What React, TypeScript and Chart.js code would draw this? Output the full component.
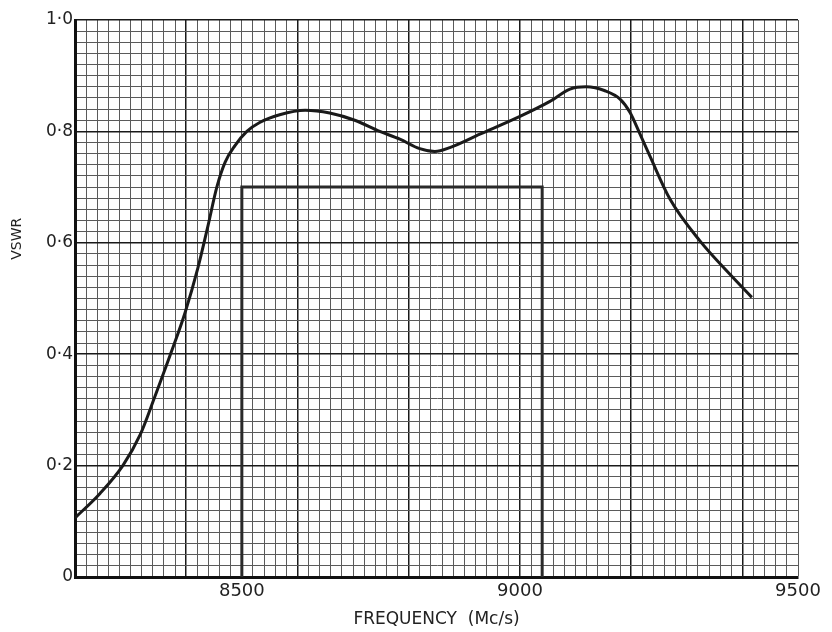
import React, { useEffect, useRef } from "react";
import { Chart, registerables } from "chart.js";

Chart.register(...registerables);

const frequencies = [8200, 8245, 8286, 8317, 8344, 8371, 8398, 8421, 8439, 8455, 8470, 8488, 8509, 8532, 8568, 8614, 8658, 8703, 8748, 8784, 8820, 8847, 8874, 8928, 9000, 9054, 9090, 9119, 9153, 9180, 9198, 9216, 9234, 9270, 9324, 9378, 9417];
const vswr = [0.106, 0.150, 0.20, 0.255, 0.325, 0.398, 0.475, 0.555, 0.63, 0.70, 0.745, 0.775, 0.80, 0.816, 0.83, 0.838, 0.833, 0.82, 0.80, 0.786, 0.769, 0.764, 0.771, 0.795, 0.827, 0.854, 0.876, 0.880, 0.873, 0.858, 0.834, 0.795, 0.755, 0.678, 0.603, 0.543, 0.502];

const bandFreqs = [8500, 8500, 9040, 9040];
const bandValues = [0, 0.7, 0.7, 0];

const xTickLabels = [8500, 9000, 9500];
const yTickLabels = ["0", "0·2", "0·4", "0·6", "0·8", "1·0"];

const X_MIN = 8200;
const X_MAX = 9500;
const FONT = "'DejaVu Sans', sans-serif";

export default function App() {
  const ref = useRef<HTMLCanvasElement | null>(null);
  useEffect(() => {
    if (!ref.current) return;
    const yTitlePlugin = {
      id: "yTitle",
      afterDraw(chart: any) {
        const ctx = chart.ctx;
        const y = chart.scales.y;
        ctx.save();
        ctx.font = `14px ${FONT}`;
        ctx.fillStyle = "#222";
        ctx.textAlign = "center";
        ctx.textBaseline = "middle";
        ctx.translate(17, y.getPixelForValue(0.6) - 4);
        ctx.rotate(-Math.PI / 2);
        ctx.fillText("VSWR", 0, 0);
        ctx.restore();
      },
    };
    const isMajorX = (v: number) => Math.round(v - X_MIN) % 200 === 0;
    const isMajorY = (v: number) => Math.round(v * 50) % 10 === 0;
    const chart = new Chart(ref.current, {
      type: "line",
      data: {
        datasets: [
          {
            data: frequencies.map((f, i) => ({ x: f, y: vswr[i] })),
            borderColor: "#1a1a1a",
            borderWidth: 3,
            pointRadius: 0,
            cubicInterpolationMode: "monotone",
            fill: false,
          },
          {
            data: bandFreqs.map((f, i) => ({ x: f, y: bandValues[i] })),
            borderColor: "#2a2a2a",
            borderWidth: 3,
            pointRadius: 0,
            tension: 0,
            fill: false,
          },
        ],
      },
      options: {
        animation: false,
        responsive: true,
        maintainAspectRatio: false,
        layout: { padding: { top: 20, right: 34, left: 0, bottom: 0 } },
        plugins: { legend: { display: false }, tooltip: { enabled: false } },
        scales: {
          x: {
            type: "linear",
            min: X_MIN,
            max: X_MAX,
            afterFit: (s: any) => { s.height = 55; },
            ticks: {
              stepSize: 20,
              maxTicksLimit: 1000,
              autoSkip: false,
              maxRotation: 0,
              minRotation: 0,
              padding: 4,
              color: "#222",
              font: { family: FONT, size: 18 },
              callback: (v: any) => (xTickLabels.includes(Math.round(v)) ? String(Math.round(v)) : ""),
            },
            grid: {
              drawTicks: false,
              color: (c: any) => (c.tick && isMajorX(c.tick.value) ? "#1a1a1a" : "#5a5a5a"),
              lineWidth: (c: any) => (c.tick && isMajorX(c.tick.value) ? 1.5 : 1),
            },
            border: { display: true, color: "#111", width: 3 },
            title: {
              display: true,
              text: "FREQUENCY  (Mc/s)",
              color: "#222",
              font: { family: FONT, size: 17 },
              padding: { top: 2, bottom: 2 },
            },
          },
          y: {
            type: "linear",
            min: 0,
            max: 1,
            afterFit: (s: any) => { s.width = 75; },
            ticks: {
              stepSize: 0.02,
              maxTicksLimit: 1000,
              autoSkip: false,
              padding: 2,
              color: "#222",
              font: { family: FONT, size: 17 },
              callback: (v: any) => {
                const n = Math.round(v * 50);
                return n % 10 === 0 ? yTickLabels[n / 10] : "";
              },
            },
            grid: {
              drawTicks: false,
              color: (c: any) => (c.tick && isMajorY(c.tick.value) ? "#1a1a1a" : "#5a5a5a"),
              lineWidth: (c: any) => (c.tick && isMajorY(c.tick.value) ? 1.5 : 1),
            },
            border: { display: true, color: "#111", width: 3 },
          },
        },
      },
      plugins: [yTitlePlugin],
    } as any);
    return () => chart.destroy();
  }, []);
  return (
    <div style={{ position: "fixed", left: 0, top: 0, width: 832, height: 632, background: "#fff" }}>
      <canvas ref={ref} />
    </div>
  );
}
